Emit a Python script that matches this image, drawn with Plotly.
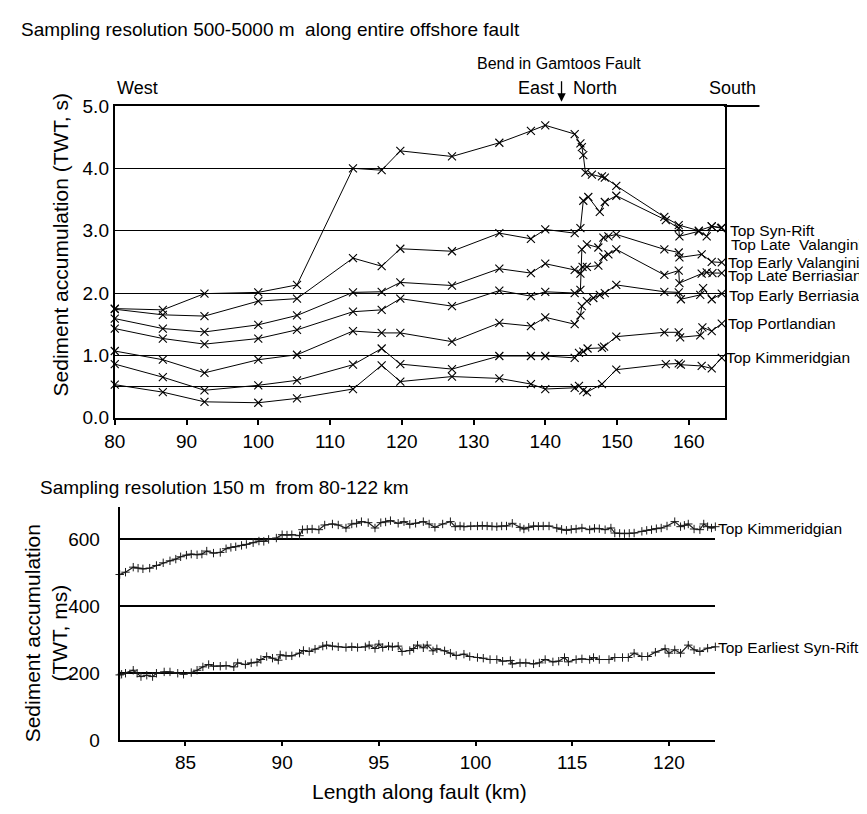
import plotly.graph_objects as go

W, H = 867, 814
# the page body adds an 8 px margin; positions below are given in screen pixels
OX, OY = 8, 8
def px(x): return (x - OX) / W
def py(y): return 1 - (y - OY) / H

# ---------------- Top chart data (TWT, s) ----------------
syn_rift_x = [80, 86.7, 92.5, 100, 105.4, 113.2, 117.2, 119.8, 127, 133.6, 138, 140, 144.1, 144.9, 145.1, 145.3, 145.6, 146.5, 147.9, 148.3, 149.9, 156.6, 158.6, 161.4, 163.2, 164.6]
syn_rift_y = [1.75, 1.73, 1.99, 2.01, 2.13, 4.00, 3.97, 4.28, 4.19, 4.41, 4.60, 4.69, 4.55, 4.40, 4.34, 4.21, 3.93, 3.90, 3.87, 3.85, 3.72, 3.22, 3.09, 3.00, 3.07, 3.05]

late_val_x = [80, 86.7, 92.5, 100, 105.4, 113.2, 117.2, 119.8, 127, 133.6, 138, 140, 144.1, 144.9, 145.3, 146.0, 147.6, 148.3, 149.9, 156.8, 158.6, 158.7, 161.4, 162.5, 163.2, 164.5]
late_val_y = [1.74, 1.65, 1.63, 1.87, 1.91, 2.56, 2.43, 2.71, 2.67, 2.96, 2.87, 3.02, 2.96, 3.04, 3.48, 3.54, 3.30, 3.46, 3.56, 3.17, 3.04, 2.91, 2.99, 2.91, 3.07, 3.04]

late_berr_x = [80, 86.7, 92.5, 100, 105.4, 113.2, 117.2, 119.8, 127, 133.6, 138, 140, 144.1, 144.9, 145.2, 145.8, 147.4, 148.1, 148.8, 149.9, 156.6, 158.6, 158.7, 161.8, 162.5, 163.3, 164.6]
late_berr_y = [1.59, 1.43, 1.375, 1.49, 1.64, 2.01, 2.02, 2.17, 2.12, 2.39, 2.32, 2.47, 2.37, 2.31, 2.42, 2.42, 2.44, 2.58, 2.62, 2.70, 2.29, 2.36, 2.16, 2.31, 2.33, 2.32, 2.32]

early_val_x = [80, 86.7, 92.5, 100, 105.4, 113.2, 117.2, 119.8, 127, 133.6, 138, 140, 144.1, 144.9, 145.1, 145.8, 147.4, 148.1, 148.8, 149.9, 156.6, 158.6, 158.7, 161.8, 163.2, 164.6]
early_val_y = [1.43, 1.27, 1.18, 1.27, 1.41, 1.70, 1.73, 1.91, 1.79, 2.04, 1.95, 2.02, 2.00, 2.05, 2.70, 2.78, 2.73, 2.89, 2.91, 2.94, 2.70, 2.65, 2.57, 2.62, 2.50, 2.49]

early_berr_x = [80, 86.7, 92.5, 100, 105.4, 113.2, 117.2, 119.8, 127, 133.6, 138, 140, 144.1, 144.9, 145.1, 145.8, 146.7, 147.6, 148.3, 149.9, 156.6, 158.6, 158.9, 161.6, 162.0, 163.2, 164.6]
early_berr_y = [1.07, 0.93, 0.72, 0.93, 1.01, 1.39, 1.36, 1.36, 1.22, 1.52, 1.47, 1.61, 1.50, 1.64, 1.79, 1.87, 1.92, 1.97, 2.00, 2.13, 2.02, 2.01, 1.90, 1.97, 2.08, 1.90, 1.99]

portland_x = [80, 86.7, 92.5, 100, 105.4, 113.2, 117.2, 119.8, 127, 133.6, 138, 140, 144.1, 144.7, 145.3, 145.9, 147.9, 148.2, 149.9, 156.6, 158.6, 158.8, 161.6, 161.9, 163.2, 164.6]
portland_y = [0.86, 0.65, 0.44, 0.52, 0.60, 0.85, 1.11, 0.86, 0.78, 0.99, 0.99, 0.99, 0.96, 1.04, 1.06, 1.11, 1.12, 1.14, 1.30, 1.37, 1.37, 1.29, 1.32, 1.45, 1.39, 1.51]

kimm_x = [80, 86.7, 92.5, 100, 105.4, 113.2, 117.2, 119.8, 127, 133.6, 138, 140, 144.1, 144.7, 145.3, 145.8, 147.9, 149.9, 156.8, 158.6, 158.9, 161.8, 163.2, 164.6]
kimm_y = [0.53, 0.41, 0.255, 0.24, 0.31, 0.46, 0.84, 0.58, 0.66, 0.63, 0.54, 0.46, 0.48, 0.51, 0.44, 0.41, 0.54, 0.77, 0.86, 0.87, 0.85, 0.83, 0.79, 0.96]

top_xticks = [80, 90, 100, 110, 120, 130, 140, 150, 160]
top_yticks = [0, 0.5, 1, 2, 3, 4, 5]
top_yticktext = ["0.0", "", "1.0", "2.0", "3.0", "4.0", "5.0"]

top_labels = ["Top Syn-Rift", "Top Late\u00a0 Valanginian", "Top Early Valanginian", "Top Late Berriasian",
              "Top Early Berriasian", "Top Portlandian", "Top Kimmeridgian"]

# ---------------- Bottom chart data (TWT, ms) ----------------
kimm_hr_x = [81.6, 81.9, 82.3, 82.55, 82.8, 83.15, 83.5, 83.85, 84.2, 84.5, 84.75, 85.05, 85.3, 85.6, 85.85,
             86.1, 86.45, 86.8, 87.1, 87.35, 87.6, 87.9, 88.15, 88.5, 88.8, 89.05, 89.3, 89.7, 90.0, 90.25,
             90.5, 90.9, 91.05, 91.3, 91.55, 91.9, 92.2, 92.6, 92.9, 93.3, 93.6, 93.85, 94.1, 94.45, 94.8,
             95.1, 95.35, 95.6, 96.0, 96.3, 96.6, 96.9, 97.3, 97.6, 97.9, 98.3, 98.7, 98.95, 99.2, 99.4,
             99.75, 100.1, 100.35, 100.6, 100.85, 101.1, 101.35, 101.6, 101.9, 102.3, 102.5, 102.75, 103.0,
             103.25, 103.5, 103.8, 104.2, 104.45, 104.7, 104.95, 105.2, 105.5, 105.9, 106.15, 106.4, 106.7,
             107.0, 107.2, 107.45, 107.7, 107.95, 108.2, 108.6, 108.85, 109.1, 109.35, 109.6, 109.9, 110.3,
             110.6, 110.8, 111.0, 111.3, 111.6, 111.8, 112.0, 112.2, 112.4]
kimm_hr_y = [495, 502, 517, 514, 512, 514, 522, 530, 536, 541, 548, 553, 556, 554, 556,
             565, 559, 561, 572, 576, 578, 582, 585, 590, 595, 594, 600, 604, 614, 613,
             614, 611, 629, 630, 631, 629, 643, 646, 643, 634, 646, 648, 653, 650, 634,
             650, 652, 656, 648, 653, 645, 648, 653, 646, 636, 646, 653, 638, 640, 638,
             640, 640, 641, 640, 639, 638, 640, 640, 648, 636, 631, 636, 640,
             639, 640, 640, 634, 630, 627, 630, 631, 634, 629, 633, 632, 629,
             634, 619, 618, 617, 618, 619, 624, 627, 629, 632, 634, 640, 653,
             638, 642, 646, 631, 629, 646, 638, 634, 638]

earliest_x = [81.6, 81.7, 81.9, 82.3, 82.5, 82.7, 83.0, 83.3, 83.5, 83.9, 84.2, 84.6, 84.9, 85.3, 85.6,
              85.9, 86.2, 86.45, 86.8, 87.1, 87.5, 87.7, 88.1, 88.4, 88.7, 88.9, 89.2, 89.5, 89.8, 89.9,
              90.2, 90.5, 90.9, 91.1, 91.4, 91.7, 92.1, 92.3, 92.6, 92.9, 93.3, 93.6, 93.9, 94.3, 94.5,
              94.8, 95.0, 95.2, 95.5, 95.7, 96.0, 96.2, 96.6, 96.8, 97.0, 97.3, 97.5, 97.8, 98.0, 98.4,
              98.7, 99.0, 99.4, 99.7, 100.1, 100.4, 100.75, 101.1, 101.4, 101.8, 101.9, 102.3, 102.6, 103.0,
              103.3, 103.6, 104.0, 104.3, 104.6, 104.8, 105.2, 105.5, 105.9, 106.1, 106.4, 106.9, 107.2,
              107.6, 107.9, 108.2, 108.6, 108.9, 109.3, 109.8, 110.0, 110.3, 110.6, 111.0, 111.3, 111.6,
              112.0, 112.4]
earliest_y = [195, 197, 200, 209, 200, 190, 194, 190, 200, 204, 204, 200, 197, 202, 209,
              219, 226, 221, 221, 223, 219, 231, 226, 231, 233, 241, 250, 245, 239, 255,
              252, 252, 260, 268, 265, 272, 281, 284, 281, 279, 277, 279, 277, 279, 284,
              274, 287, 277, 281, 279, 281, 265, 268, 274, 284, 276, 284, 267, 273, 267,
              260, 253, 257, 250, 247, 245, 241, 241, 236, 238, 228, 231, 231, 228,
              231, 241, 234, 236, 247, 234, 241, 243, 241, 247, 241, 241, 247,
              247, 247, 260, 250, 250, 263, 273, 260, 270, 260, 284, 270, 265,
              275, 279]

bot_xticks = [85, 90, 95, 100, 105, 110]
bot_xticktext = ["85", "90", "95", "100", "115", "120"]
bot_yticks = [0, 200, 400, 600]

FONT = "Liberation Sans, Arial, sans-serif"
fig = go.Figure()

top_series = [
    ("Top Syn-Rift", syn_rift_x, syn_rift_y),
    ("Top Late Valanginian", late_val_x, late_val_y),
    ("Top Late Berriasian", late_berr_x, late_berr_y),
    ("Top Early Valanginian", early_val_x, early_val_y),
    ("Top Early Berriasian", early_berr_x, early_berr_y),
    ("Top Portlandian", portland_x, portland_y),
    ("Top Kimmeridgian", kimm_x, kimm_y),
]
for name, xs, ys in top_series:
    fig.add_trace(go.Scatter(
        x=xs, y=ys, mode="lines+markers", name=name, xaxis="x", yaxis="y",
        line=dict(color="black", width=1),
        marker=dict(symbol="x-thin", size=8, line=dict(color="black", width=1.1)),
        cliponaxis=False, showlegend=False))

for name, xs, ys in [("Top Kimmeridgian", kimm_hr_x, kimm_hr_y),
                     ("Top Earliest Syn-Rift", earliest_x, earliest_y)]:
    fig.add_trace(go.Scatter(
        x=xs, y=ys, mode="lines+markers", name=name, xaxis="x2", yaxis="y2",
        line=dict(color="#1a1a1a", width=1.2),
        marker=dict(symbol="cross-thin", size=6, line=dict(color="#1a1a1a", width=1)),
        cliponaxis=False, showlegend=False))

tickfont = dict(family=FONT, size=19, color="black")
fig.update_layout(
    width=W, height=H,
    margin=dict(l=0, r=0, t=0, b=0),
    paper_bgcolor="white", plot_bgcolor="white",
    font=dict(family=FONT, color="black"),
    xaxis=dict(domain=[px(105), px(722.7)], range=[80, 165], anchor="y",
               tickvals=top_xticks, ticks="outside", ticklen=5, tickwidth=1.5, tickcolor="black",
               showline=True, mirror=True, linecolor="black", linewidth=2,
               showgrid=False, zeroline=False, tickfont=tickfont),
    yaxis=dict(domain=[py(418.3), py(98.3)], range=[0, 5], anchor="x",
               tickvals=top_yticks, ticktext=top_yticktext, ticks="",
               showline=True, mirror=True, linecolor="black", linewidth=2,
               showgrid=True, gridcolor="black", gridwidth=1, zeroline=False, tickfont=tickfont),
    xaxis2=dict(domain=[px(110), px(713.3)], range=[81.6, 112.4], anchor="y2",
                tickvals=bot_xticks, ticktext=bot_xticktext, ticks="outside", ticklen=4,
                tickwidth=1.5, tickcolor="black",
                showline=True, linecolor="black", linewidth=2,
                showgrid=False, zeroline=False, tickfont=tickfont),
    yaxis2=dict(domain=[py(749.3), py(510)], range=[0, 696.6], anchor="x2",
                tickvals=bot_yticks, ticks="", ticklabelstandoff=14,
                showline=True, linecolor="black", linewidth=2,
                showgrid=True, gridcolor="black", gridwidth=1.5, zeroline=False, tickfont=tickfont),
)

# top border extension towards "South"
fig.add_shape(type="line", xref="paper", yref="paper", x0=px(722), x1=px(758), y0=py(98.3), y1=py(98.3),
              line=dict(color="black", width=2))

def ann(text, x, y, size, xanchor="left", yanchor="middle", angle=0):
    fig.add_annotation(text=text, x=px(x), y=py(y), xref="paper", yref="paper", showarrow=False,
                       xanchor=xanchor, yanchor=yanchor, textangle=angle,
                       font=dict(family=FONT, size=size, color="black"))

ann("Sampling resolution 500-5000 m\u00a0 along entire offshore fault", 8, 20, 19)
ann("Sampling resolution 150 m\u00a0 from 80-122 km", 27, 490, 19)
ann("Bend in Gamtoos Fault", 555, 55, 16, xanchor="center")
ann("West", 105, 80, 18)
ann("East", 552, 80, 18, xanchor="right")
ann("North", 567, 80, 18)
ann("South", 705, 80, 18)
fig.add_annotation(x=px(557.5), y=py(94), xref="paper", yref="paper", text="", showarrow=True,
                   ax=0, ay=-22, arrowhead=2, arrowsize=1.3, arrowwidth=1.3, arrowcolor="black")

ann("Sediment accumulation (TWT, s)", 51, 241, 21, xanchor="center", angle=-90)
ann("Sediment accumulation<br>(TWT, ms)", 35, 640, 21, xanchor="center", angle=-90)
ann("Length along fault (km)", 414, 802, 21, xanchor="center")

label_pos = [(726, 226), (727, 240), (724, 259), (724, 272), (725, 293), (724, 322), (722, 357)]
for t, (lx, ly) in zip(top_labels, label_pos):
    ann(t, lx, ly, 15.5)

ann("Top Kimmeridgian", 714, 532, 15.5)
ann("Top Earliest Syn-Rift", 714, 654, 15.5)

fig.write_html("out.html")
